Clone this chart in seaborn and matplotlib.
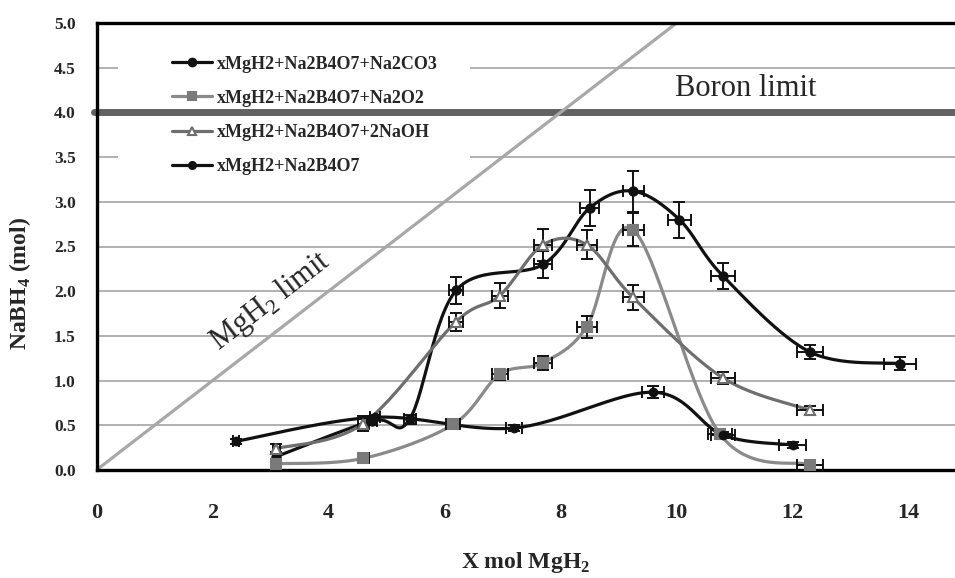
import numpy as np
import pandas as pd
import seaborn as sns
import matplotlib
matplotlib.use("Agg")
import matplotlib.pyplot as plt
from matplotlib.lines import Line2D
from matplotlib.patches import Rectangle

# data
co3_x = [3.1, 4.75, 5.4, 6.2, 7.7, 8.5, 9.25, 10.05, 10.8, 12.3, 13.85]
co3_y = [0.15, 0.55, 0.57, 2.01, 2.30, 2.93, 3.12, 2.80, 2.17, 1.32, 1.19]
co3_xerr = [0.06, 0.09, 0.1, 0.12, 0.15, 0.17, 0.18, 0.2, 0.21, 0.23, 0.27]
co3_yerr = [0.05, 0.05, 0.05, 0.15, 0.15, 0.2, 0.23, 0.2, 0.15, 0.08, 0.07]

o2_x = [3.1, 4.6, 6.15, 6.95, 7.7, 8.45, 9.25, 10.75, 12.3]
o2_y = [0.07, 0.13, 0.51, 1.07, 1.20, 1.60, 2.69, 0.40, 0.06]
o2_xerr = [0.06, 0.09, 0.12, 0.14, 0.15, 0.17, 0.18, 0.21, 0.23]
o2_yerr = [0.03, 0.03, 0.03, 0.065, 0.08, 0.12, 0.18, 0.03, 0.03]

oh_x = [3.1, 4.6, 6.2, 6.95, 7.7, 8.45, 9.25, 10.8, 12.3]
oh_y = [0.24, 0.52, 1.66, 1.95, 2.52, 2.52, 1.93, 1.03, 0.67]
oh_xerr = [0.06, 0.09, 0.12, 0.14, 0.15, 0.17, 0.18, 0.21, 0.23]
oh_yerr = [0.05, 0.08, 0.1, 0.14, 0.18, 0.16, 0.14, 0.065, 0.05]

b4o7_x = [2.4, 4.8, 7.2, 9.6, 10.8, 12.0]
b4o7_y = [0.32, 0.59, 0.47, 0.87, 0.39, 0.28]
b4o7_xerr = [0.05, 0.09, 0.14, 0.19, 0.21, 0.23]
b4o7_yerr = [0.03, 0.03, 0.03, 0.065, 0.03, 0.03]

labels = ["xMgH2+Na2B4O7+Na2CO3", "xMgH2+Na2B4O7+Na2O2",
          "xMgH2+Na2B4O7+2NaOH", "xMgH2+Na2B4O7"]
yticks = [0.0, 0.5, 1.0, 1.5, 2.0, 2.5, 3.0, 3.5, 4.0, 4.5, 5.0]
xticks = [0, 2, 4, 6, 8, 10, 12, 14]
boron_limit = 4.0
mgh2_ratio = 0.5   # NaBH4 per MgH2


def smooth(xs, ys, n=30):
    # excel-like smoothed line (bezier through the points)
    pts = np.column_stack([xs, ys])
    p = np.vstack([pts[0], pts, pts[-1]])
    segs = []
    t = np.linspace(0, 1, n)[:, None]
    for i in range(1, len(p) - 2):
        p0, p1, p2, p3 = p[i - 1], p[i], p[i + 1], p[i + 2]
        c1 = p1 + (p2 - p0) / 6
        c2 = p2 - (p3 - p1) / 6
        segs.append((1 - t) ** 3 * p1 + 3 * (1 - t) ** 2 * t * c1
                    + 3 * (1 - t) * t ** 2 * c2 + t ** 3 * p2)
    s = np.vstack(segs)
    return pd.DataFrame({"x": s[:, 0], "y": s[:, 1]})


sns.set_style("white")
plt.rcParams["font.family"] = ["Liberation Serif", "DejaVu Serif"]
plt.rcParams["mathtext.fontset"] = "custom"
plt.rcParams["mathtext.rm"] = "Liberation Serif"
plt.rcParams["mathtext.bf"] = "Liberation Serif:bold"

fig = plt.figure(figsize=(9.55, 5.78), dpi=100)
ax = fig.add_axes([96.5 / 955, 108 / 578, 858.5 / 955, 447 / 578])
ax.set_xlim(0, 14.8)
ax.set_ylim(0, 5.0)

# grid
for yv in yticks[1:-1]:
    ax.axhline(yv, color="#a3a3a3", lw=1.2, zorder=0.5)

# legend background (hides grid)
ax.add_patch(Rectangle((0.025, 0.638), 0.41, 0.33, transform=ax.transAxes,
                       facecolor="white", edgecolor="none", zorder=1))

# limits
ax.axhline(boron_limit, color="#626262", lw=5, zorder=2, clip_on=False, xmin=-0.003)
lim_x = np.array([0, 5.0 / mgh2_ratio])
ax.plot(lim_x, lim_x * mgh2_ratio, color="#a8a8a8", lw=2.3, zorder=2)

series = [
    (co3_x, co3_y, co3_xerr, co3_yerr, "#111111", "o", "#111111", "#111111", 6),
    (o2_x, o2_y, o2_xerr, o2_yerr, "#8a8a8a", "s", "#7a7a7a", "#7a7a7a", 6.5),
    (oh_x, oh_y, oh_xerr, oh_yerr, "#6e6e6e", "^", "white", "#6e6e6e", 6.5),
    (b4o7_x, b4o7_y, b4o7_xerr, b4o7_yerr, "#111111", "o", "#111111", "#111111", 5.5),
]
handles = []
for i, (xs, ys, xe, ye, lc, mk, mfc, mec, ms) in enumerate(series):
    sns.lineplot(data=smooth(xs, ys), x="x", y="y", sort=False, estimator=None,
                 color=lc, lw=2.3, ax=ax, zorder=3)
    ax.errorbar(xs, ys, xerr=xe, yerr=ye, fmt="none", ecolor="#111111",
                elinewidth=1.4, capsize=4, capthick=1.4, zorder=4)
    ax.plot(xs, ys, ls="none", marker=mk, ms=ms, mfc=mfc, mec=mec, mew=1.5, zorder=5)
    handles.append(Line2D([], [], color=lc, lw=2.3, marker=mk, ms=ms - 0.5,
                          mfc=mfc, mec=mec, mew=1.5))

ax.legend(handles, labels, loc="upper left", bbox_to_anchor=(0.088, 0.927),
          frameon=False, borderpad=0, borderaxespad=0, handlelength=2.2,
          handletextpad=0.3, labelspacing=0.95,
          prop={"family": "Liberation Serif", "weight": "bold", "size": 13})

ax.text(11.2, 4.27, "Boron limit", fontsize=22, ha="center", va="center")
ang = np.degrees(np.arctan2(*(np.diff(ax.transData.transform([(0, 0), (1, mgh2_ratio)]),
                                      axis=0)[0][::-1])))
ax.text(3.0, 1.89, "MgH$_2$ limit", fontsize=22, ha="center", va="center",
        rotation=ang, rotation_mode="anchor")

# axes styling
ax.set_yticks(yticks)
ax.set_yticklabels([f"{v:.1f}" for v in yticks], fontweight="bold", fontsize=12.5)
ax.set_xticks(xticks)
ax.set_xticklabels([str(v) for v in xticks], fontweight="bold", fontsize=16)
ax.tick_params(axis="y", length=0, pad=15)
ax.tick_params(axis="x", direction="in", length=6, width=1, color="#999999", pad=24)
for side in ["left", "bottom", "top"]:
    ax.spines[side].set_linewidth(2.4)
    ax.spines[side].set_color("black")
ax.spines["right"].set_visible(False)

ax.set_xlabel(r"X mol MgH$_\mathbf{2}$", fontsize=17, fontweight="bold")
ax.xaxis.set_label_coords(0.5, -0.18)
ax.set_ylabel(r"NaBH$_\mathbf{4}$ (mol)", fontsize=17, fontweight="bold")
ax.yaxis.set_label_coords(-0.074, 0.418)

fig.savefig("out.png", dpi=100)
